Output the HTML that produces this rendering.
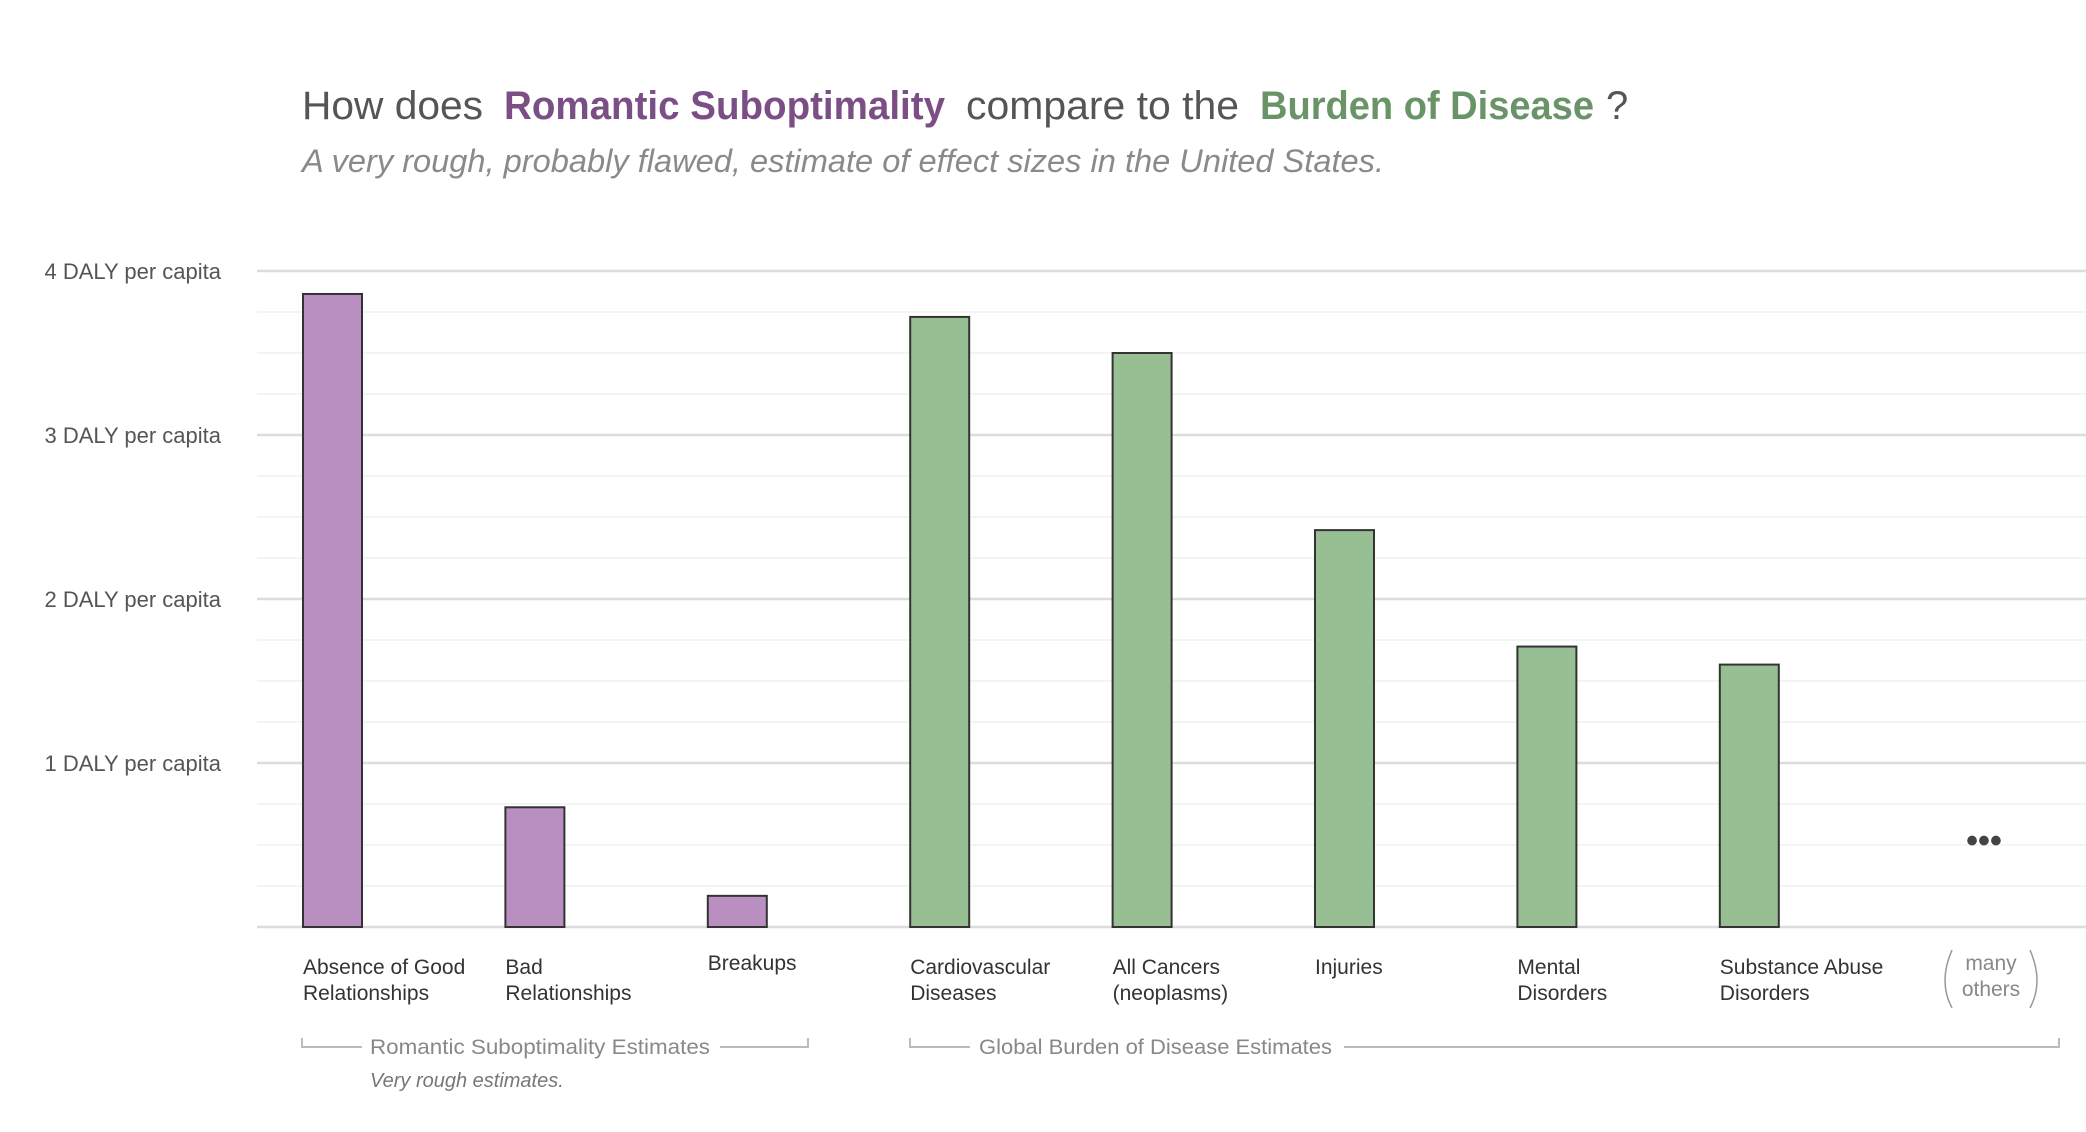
<!DOCTYPE html>
<html><head><meta charset="utf-8"><style>
html,body{margin:0;padding:0;background:#fff;}
svg{display:block;font-family:"Liberation Sans",sans-serif;}
</style></head><body>
<svg id="chart" width="2086" height="1132" viewBox="0 0 2086 1132" xmlns="http://www.w3.org/2000/svg">
<g font-size="40">
<text x="302" y="119" fill="#555" textLength="181" lengthAdjust="spacingAndGlyphs">How does</text>
<text x="504" y="119" fill="#7b4f86" font-weight="bold" textLength="441" lengthAdjust="spacingAndGlyphs">Romantic Suboptimality</text>
<text x="966" y="119" fill="#555" textLength="273" lengthAdjust="spacingAndGlyphs">compare to the</text>
<text x="1260" y="119" fill="#6a9467" font-weight="bold" textLength="334" lengthAdjust="spacingAndGlyphs">Burden of Disease</text>
<text x="1606" y="119" fill="#555">?</text>
</g>
<text x="302" y="172" fill="#8a8a8a" font-size="32" font-style="italic" textLength="1082" lengthAdjust="spacingAndGlyphs">A very rough, probably flawed, estimate of effect sizes in the United States.</text>
<g id="grid"></g>
<g id="yaxis"></g>
<g id="bars"></g>
<g id="xlabels"></g>
<text x="1984" y="852" fill="#444" font-size="34" font-weight="bold" text-anchor="middle">•••</text>
<g fill="#888" font-size="21">
<path d="M1952 950 Q1938 982 1952 1008" stroke="#999" fill="none" stroke-width="1.5"/>
<path d="M2030 950 Q2044 982 2030 1008" stroke="#999" fill="none" stroke-width="1.5"/>
<text x="1991" y="970" text-anchor="middle">many</text>
<text x="1991" y="996" text-anchor="middle">others</text>
</g>
<g stroke="#bbb" stroke-width="2" fill="none">
<path d="M302 1038 V1047 H362 M720 1047 H808 V1038"/>
</g>
<text x="370" y="1054" fill="#888" font-size="21" textLength="340" lengthAdjust="spacingAndGlyphs">Romantic Suboptimality Estimates</text>
<text x="370" y="1087" fill="#777" font-size="20" font-style="italic">Very rough estimates.</text>
<g stroke="#bbb" stroke-width="2" fill="none">
<path d="M910 1038 V1047 H970 M1344 1047 H2059 V1038"/>
</g>
<text x="979" y="1054" fill="#888" font-size="21" textLength="353" lengthAdjust="spacingAndGlyphs">Global Burden of Disease Estimates</text>
</svg>
<script>
const categories = ["Absence of Good|Relationships","Bad|Relationships","Breakups","Cardiovascular|Diseases","All Cancers|(neoplasms)","Injuries","Mental|Disorders","Substance Abuse|Disorders"];
const values = [3.86, 0.73, 0.19, 3.72, 3.5, 2.42, 1.71, 1.6];
const groups = ["romantic","romantic","romantic","gbd","gbd","gbd","gbd","gbd"];
const yTicks = [1, 2, 3, 4];
const yTickLabels = ["1 DALY per capita","2 DALY per capita","3 DALY per capita","4 DALY per capita"];
const NS = "http://www.w3.org/2000/svg";
const y0 = 927, pxPerUnit = 164;
function y(v){ return y0 - v * pxPerUnit; }
function x(i){ return 303 + i * 202.4; }
const barW = 59;
function mk(tag, attrs, parent){ const e = document.createElementNS(NS, tag); for (const k in attrs) e.setAttribute(k, attrs[k]); parent.appendChild(e); return e; }
const grid = document.getElementById('grid');
for (let v = 0.25; v < 4.2; v += 0.25) {
  if (Math.abs(v - Math.round(v)) < 1e-6) continue;
  const l = mk('line', {x1:257, x2:2086, y1:y(v), y2:y(v), stroke:'#f4f4f4', 'stroke-width':2}, grid);
  
  
}
[0].concat(yTicks).forEach(v => {
  const l = mk('line', {x1:257, x2:2086, y1:y(v), y2:y(v), stroke:'#dcdcdc', 'stroke-width':2.5}, grid);
  
  
});
const ya = document.getElementById('yaxis');
yTicks.forEach((v, i) => {
  const t = mk('text', {x:221, y:y(v) + 8, 'text-anchor':'end', fill:'#555', 'font-size':22}, ya);
  t.textContent = yTickLabels[i];
  
  
});
const bars = document.getElementById('bars');
const xl = document.getElementById('xlabels');
values.forEach((v, i) => {
  const r = mk('rect', {x:x(i), y:y(v), width:barW, height:y0 - y(v), fill: groups[i] === 'romantic' ? '#b98fc1' : '#98bf94', stroke:'#333', 'stroke-width':2}, bars);
  
  
  const lines = categories[i].split('|');
  const t = mk('text', {x:x(i), y: lines.length === 1 && i === 2 ? 970 : 974, fill:'#333', 'font-size':21, 'font-weight':'500'}, xl);
  
  
  lines.forEach((s, j) => { const ts = mk('tspan', {x:x(i), dy: j === 0 ? 0 : 26}, t); ts.textContent = s; });
});
</script>
</body></html>
